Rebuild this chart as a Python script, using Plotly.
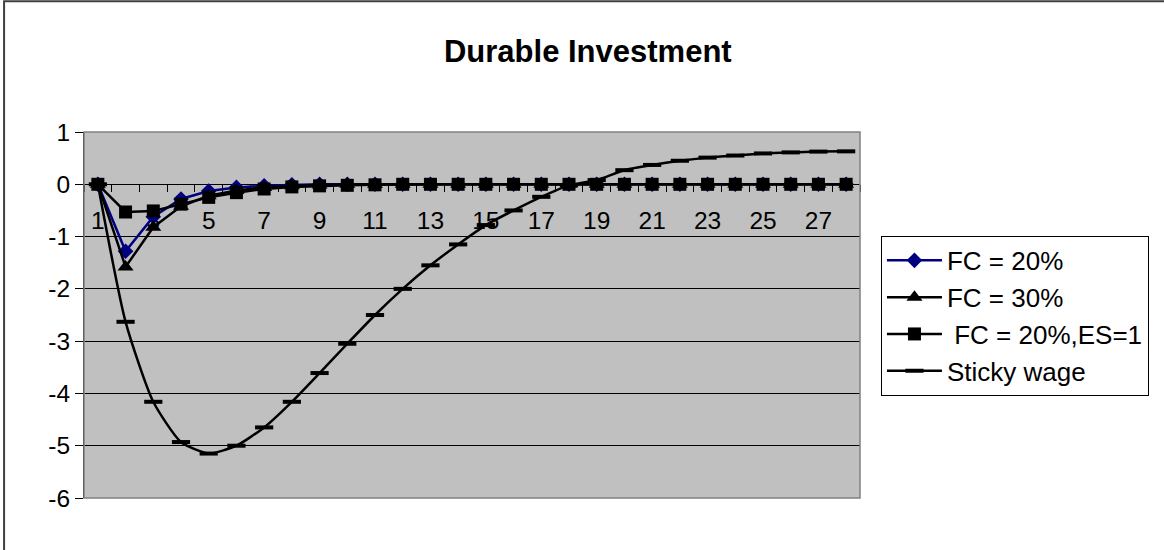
import plotly.graph_objects as go

periods = list(range(1, 29))

fc20 = [0, -1.28, -0.62, -0.28, -0.13, -0.06, -0.03, -0.01, 0, 0,
        0, 0, 0, 0, 0, 0, 0, 0, 0, 0, 0, 0, 0, 0, 0, 0, 0, 0]
fc30 = [0, -1.58, -0.82, -0.42, -0.22, -0.12, -0.06, -0.03, -0.015, 0,
        0, 0, 0, 0, 0, 0, 0, 0, 0, 0, 0, 0, 0, 0, 0, 0, 0, 0]
fc20_es1 = [0, -0.53, -0.51, -0.38, -0.25, -0.16, -0.09, -0.05, -0.03, -0.02,
            -0.01, 0, 0, 0, 0, 0, 0, 0, 0, 0, 0, 0, 0, 0, 0, 0, 0, 0]
sticky = [0, -2.63, -4.16, -4.93, -5.15, -5.0, -4.65, -4.16, -3.61, -3.05,
          -2.5, -2.0, -1.55, -1.15, -0.78, -0.5, -0.24, -0.02, 0.08, 0.27,
          0.37, 0.45, 0.51, 0.55, 0.59, 0.61, 0.625, 0.63]

xtick_vals = list(range(1, 29, 2))
ytick_vals = [-6, -5, -4, -3, -2, -1, 0, 1]
ytick_text = ["-6", "-5", "-4", "-3", "-2", "-1", "0", "1"]

font_main = "Arial, Liberation Sans, sans-serif"

fig = go.Figure()
fig.add_trace(go.Scatter(x=periods, y=fc20, name="FC = 20%", mode="lines+markers",
                         line=dict(color="#000080", width=2.5),
                         marker=dict(symbol="diamond", size=12, color="#000080")))
fig.add_trace(go.Scatter(x=periods, y=fc30, name="FC = 30%", mode="lines+markers",
                         line=dict(color="black", width=2.5),
                         marker=dict(symbol="triangle-up", size=14, color="black")))
fig.add_trace(go.Scatter(x=periods, y=fc20_es1, name=" FC = 20%,ES=1", mode="lines+markers",
                         line=dict(color="black", width=2.5),
                         marker=dict(symbol="square", size=13, color="black")))
fig.add_trace(go.Scatter(x=periods, y=sticky, name="Sticky wage", mode="lines+markers",
                         line=dict(color="black", width=2.5, shape="spline", smoothing=0.6),
                         marker=dict(symbol="line-ew", size=13,
                                     line=dict(color="black", width=4))))

# outer chart border (cropped at right/bottom in the reference)
fig.add_shape(type="rect", xref="paper", yref="paper",
              x0=-0.103, x1=1.45, y0=-0.3, y1=1.357,
              line=dict(color="#404040", width=2), layer="below")
# plot-area frame
fig.add_shape(type="rect", xref="paper", yref="paper",
              x0=0, x1=1, y0=0, y1=1,
              line=dict(color="#808080", width=1.5), layer="above")

fig.update_layout(
    width=1164, height=550,
    margin=dict(l=84, r=304, t=132, b=52),
    paper_bgcolor="white", plot_bgcolor="#C0C0C0",
    font=dict(family=font_main, size=24, color="black"),
    title=dict(text="<b>Durable Investment</b>", x=0.505, xanchor="center",
               y=0.907, yanchor="middle", xref="container", yref="container",
               font=dict(size=31, family=font_main, color="black")),
    showlegend=True,
    legend=dict(x=1.027, y=0.716, xanchor="left", yanchor="top",
                bgcolor="white", bordercolor="black", borderwidth=1,
                font=dict(size=26, family=font_main), itemwidth=55,
                traceorder="normal"),
    xaxis=dict(range=[0.5, 28.5], tickvals=xtick_vals, ticks="", showgrid=False,
               anchor="free", position=6 / 7, showline=True, linecolor="black",
               linewidth=1, zeroline=False, ticklabelstandoff=14,
               layer="below traces", tickfont=dict(size=24.5),
               minor=dict(tick0=0.5, dtick=1, ticks="outside", ticklen=7,
                          tickcolor="black", showgrid=False)),
    yaxis=dict(range=[-6, 1], tickvals=ytick_vals, ticktext=ytick_text,
               ticks="outside", ticklen=8, tickfont=dict(size=24.5),
               tickcolor="black", showgrid=True, gridcolor="black", gridwidth=1,
               zeroline=False, showline=True, linecolor="black", linewidth=1,
               domain=[0, 1]),
)

fig.write_html("out.html", config={"displayModeBar": False},
               post_script="document.body.style.margin = '0';")
